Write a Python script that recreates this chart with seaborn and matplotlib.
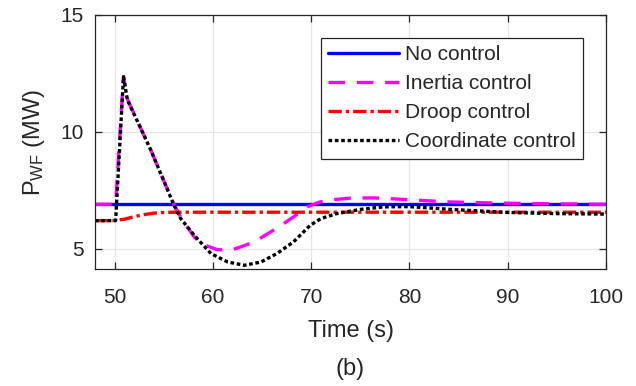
import pandas as pd
import matplotlib
matplotlib.use("Agg")
import matplotlib.pyplot as plt
import seaborn as sns

# values
t_no = [48, 60, 70, 80, 90, 100]
p_no = [6.9, 6.9, 6.9, 6.9, 6.9, 6.9]

t_inertia = [48, 50.1, 50.9, 51.3, 52.6, 53.7, 54.7, 56.0, 56.7, 58.1, 58.8, 60.4, 61.8,
             62.8, 64.2, 65.9, 67.2, 68.2, 69.6, 70.9, 72.3, 74.2, 76.5, 78.5, 81, 84, 88, 94, 100]
p_inertia = [6.9, 6.9, 12.36, 11.4, 10.2, 9.2, 8.2, 6.93, 6.36, 5.5, 5.22, 4.96, 4.93,
             5.07, 5.29, 5.72, 6.07, 6.36, 6.79, 7.0, 7.1, 7.17, 7.17, 7.13, 7.07, 7.0, 6.96, 6.92, 6.9]

t_droop = [48, 49.8, 51, 52, 53, 54, 55, 56, 60, 70, 80, 90, 100]
p_droop = [6.2, 6.2, 6.26, 6.37, 6.46, 6.52, 6.55, 6.56, 6.56, 6.56, 6.56, 6.56, 6.56]

t_coord = [48, 50.1, 50.9, 51.3, 52.6, 53.7, 54.7, 56.0, 56.7, 58.1, 59.8, 61.5, 63.2,
           64.9, 66.5, 68.2, 69.9, 71.0, 72.6, 75.0, 77.4, 80, 84.2, 90, 95, 100]
p_coord = [6.2, 6.2, 12.36, 11.36, 10.2, 9.2, 8.2, 6.9, 6.3, 5.57, 4.79, 4.43, 4.29,
           4.43, 4.79, 5.29, 6.0, 6.29, 6.5, 6.68, 6.79, 6.8, 6.68, 6.55, 6.5, 6.48]

series = [
    ("No control", t_no, p_no, "#0000ff", "-"),
    ("Inertia control", t_inertia, p_inertia, "#ff00ff", (0, (5, 3.5))),
    ("Droop control", t_droop, p_droop, "#ff0000", (0, (4, 1.2, 1, 1.2))),
    ("Coordinate control", t_coord, p_coord, "#000000", (0, (1.1, 0.8))),
]

sns.set_style("whitegrid")
plt.rcParams["font.family"] = ["Liberation Sans", "DejaVu Sans"]
plt.rcParams["mathtext.fontset"] = "custom"
plt.rcParams["mathtext.rm"] = "Liberation Sans"
plt.rcParams["mathtext.it"] = "Liberation Sans"

fig = plt.figure(figsize=(6.36, 3.86), dpi=100)
ax = fig.add_axes([95 / 636, 1 - 269 / 386, 511 / 636, 254 / 386])

for name, t, p, col, ls in series:
    df = pd.DataFrame({"t": t, "p": p})
    sns.lineplot(data=df, x="t", y="p", ax=ax, color=col, linestyle=ls,
                 linewidth=2.4, label=name, sort=False)

ax.set_xlim(48, 100)
ax.set_ylim(4.13, 15)
ax.set_xticks([50, 60, 70, 80, 90, 100])
ax.set_yticks([5, 10, 15])
ax.grid(True, color="#e6e6e6", linewidth=0.9)
for s in ax.spines.values():
    s.set_color("#262626")
    s.set_linewidth(0.9)
ax.tick_params(direction="in", length=5, width=0.9, color="#262626",
               labelsize=15, labelcolor="#262626", top=True, right=True,
               bottom=True, left=True, pad=8)
ax.tick_params(axis="x", pad=14)

ax.set_xlabel("Time (s)", fontsize=17, color="#262626", labelpad=9)
ax.set_ylabel(r"P$_{\mathrm{ WF}}$ (MW)", fontsize=17, color="#262626", labelpad=10)
fig.text(350 / 636, 1 - 369 / 386, "(b)", fontsize=17, color="#262626",
         ha="center", va="center")

leg = ax.legend(loc="upper right", fontsize=15, frameon=True, fancybox=False,
                handlelength=3.4, handletextpad=0.3, labelspacing=0.48,
                borderaxespad=1.1, borderpad=0.35)
leg.get_frame().set_edgecolor("#262626")
leg.get_frame().set_linewidth(0.9)
leg.get_frame().set_alpha(1)

fig.savefig("out.png", dpi=100)
